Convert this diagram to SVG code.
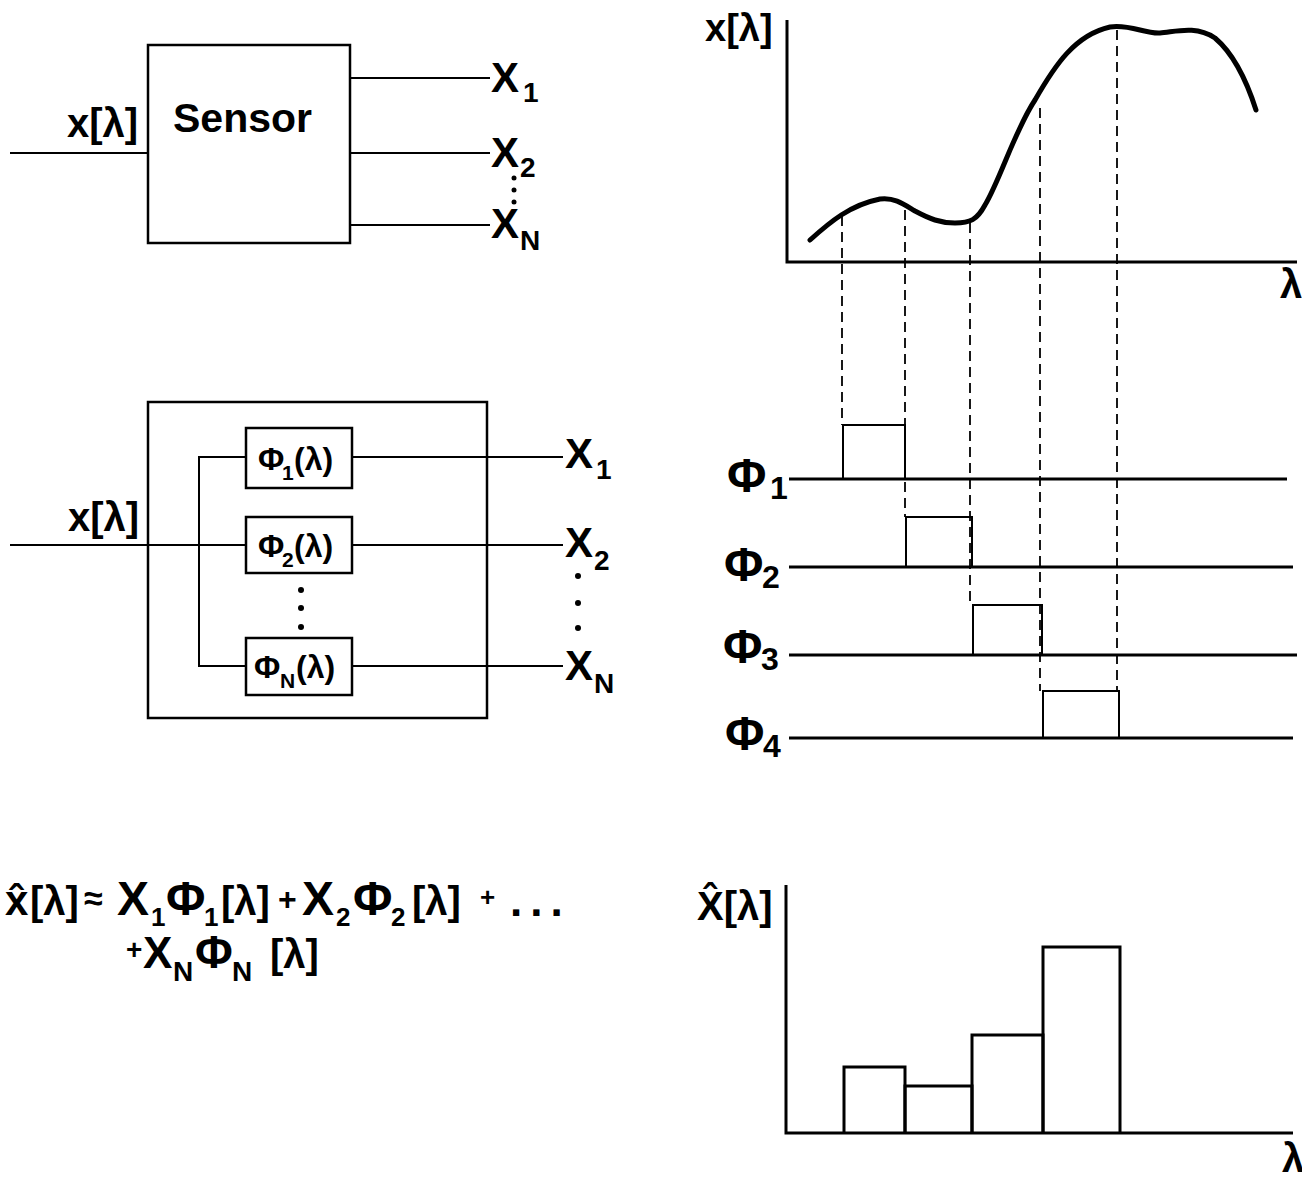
<svg xmlns="http://www.w3.org/2000/svg" width="1302" height="1179" viewBox="0 0 1302 1179">
<style>
.ln{stroke:#000;stroke-width:2;fill:none}
.bx{stroke:#000;stroke-width:2.5;fill:#fff}
.ax{stroke:#000;stroke-width:3;fill:none}
.ds{stroke:#000;stroke-width:1.8;fill:none;stroke-dasharray:10 6}
.cv{stroke:#000;stroke-width:5;fill:none;stroke-linecap:round}
text{font-family:"Liberation Sans",Arial,sans-serif;font-weight:bold;fill:#000}
.t{font-size:42px}
.s{font-size:28px}
.m{font-size:32px}
.ms{font-size:21px}
.p{font-size:48px}
.ps{font-size:32px}
.fb{font-size:48px}
.fs{font-size:26px}
.fl{font-size:40px}
</style>
<rect width="1302" height="1179" fill="#fff"/>

<g id="connectors">
  <line class="ln" x1="10" y1="153" x2="148" y2="153"/>
  <line class="ln" x1="350" y1="78" x2="490" y2="78"/>
  <line class="ln" x1="350" y1="153" x2="490" y2="153"/>
  <line class="ln" x1="350" y1="225" x2="490" y2="225"/>
  <line class="ln" x1="10" y1="545" x2="246" y2="545"/>
  <polyline class="ln" points="246,457 199,457 199,666 246,666"/>
  <line class="ln" x1="352" y1="457" x2="563" y2="457"/>
  <line class="ln" x1="352" y1="545" x2="563" y2="545"/>
  <line class="ln" x1="352" y1="666" x2="563" y2="666"/>
  <line class="ds" x1="842" y1="216" x2="842" y2="425"/>
  <line class="ds" x1="905" y1="210" x2="905" y2="517"/>
  <line class="ds" x1="970" y1="223" x2="970" y2="605"/>
  <line class="ds" x1="1040" y1="108" x2="1040" y2="691"/>
  <line class="ds" x1="1117" y1="30" x2="1117" y2="691"/>
</g>

<g id="sensor">
  <rect class="bx" x="148" y="45" width="202" height="198"/>
  <text x="173" y="132" style="font-size:41px">Sensor</text>
</g>
<g id="sensor-input-label"><text x="67" y="137" style="font-size:40px">x[λ]</text></g>
<g id="sensor-outputs">
  <text class="t" x="491" y="92">X</text><text class="s" x="523" y="102">1</text>
  <text class="t" x="491" y="167">X</text><text class="s" x="520" y="177">2</text>
  <text class="t" x="491" y="238">X</text><text class="s" x="520" y="250">N</text>
  <circle cx="514" cy="178" r="2.5"/><circle cx="514" cy="190" r="2.5"/><circle cx="514" cy="202" r="2.5"/>
</g>

<g id="filterbank">
  <rect class="bx" x="148" y="402" width="339" height="316" style="fill:none"/>
</g>
<g id="phi1-box">
  <rect class="bx" x="246" y="428" width="106" height="60"/>
  <text class="m" x="258" y="470">Φ</text><text class="ms" x="282" y="480">1</text><text class="m" x="294" y="470">(λ)</text>
</g>
<g id="phi2-box">
  <rect class="bx" x="246" y="517" width="106" height="56"/>
  <text class="m" x="258" y="557">Φ</text><text class="ms" x="282" y="567">2</text><text class="m" x="294" y="557">(λ)</text>
</g>
<g id="phiN-box">
  <rect class="bx" x="246" y="638" width="106" height="57"/>
  <text class="m" x="254" y="678">Φ</text><text class="ms" x="280" y="688">N</text><text class="m" x="296" y="678">(λ)</text>
</g>
<g id="filterbank-labels">
  <circle cx="301" cy="590" r="3"/><circle cx="301" cy="608" r="3"/><circle cx="301" cy="627" r="3"/>
  <text x="68" y="531" style="font-size:40px">x[λ]</text>
  <text class="t" x="565" y="468">X</text><text class="s" x="596" y="479">1</text>
  <text class="t" x="565" y="557">X</text><text class="s" x="594" y="570">2</text>
  <text class="t" x="565" y="680">X</text><text class="s" x="594" y="693">N</text>
  <circle cx="578" cy="576" r="3"/><circle cx="578" cy="603" r="3"/><circle cx="578" cy="628" r="3"/>
</g>

<g id="formula">
  <text x="5" y="915" style="font-size:42px">x̂</text>
  <text class="fl" x="30" y="915">[λ]</text>
  <text x="84" y="910" style="font-size:34px">≈</text>
  <text class="fb" x="117" y="915">X</text><text class="fs" x="151" y="926">1</text>
  <text class="fb" x="166" y="915">Φ</text><text class="fs" x="204" y="926">1</text>
  <text class="fl" x="221" y="915">[λ]</text>
  <text x="278" y="910" style="font-size:32px">+</text>
  <text class="fb" x="302" y="915">X</text><text class="fs" x="336" y="926">2</text>
  <text class="fb" x="353" y="915">Φ</text><text class="fs" x="391" y="926">2</text>
  <text class="fl" x="412" y="915">[λ]</text>
  <text x="480" y="906" style="font-size:26px">+</text>
  <text x="510" y="916" style="font-size:44px;letter-spacing:8px">...</text>
  <text x="126" y="959" style="font-size:28px">+</text>
  <text x="143" y="968" style="font-size:44px">X</text><text x="173" y="981" style="font-size:28px">N</text>
  <text x="195" y="968" style="font-size:46px">Φ</text><text x="232" y="981" style="font-size:28px">N</text>
  <text class="fl" x="270" y="968">[λ]</text>
</g>

<g id="graph-signal">
  <polyline class="ax" points="787,20 787,262 1297,262"/>
  <text x="705" y="41" style="font-size:38px">x[λ]</text>
  <text x="1280" y="298" style="font-size:40px">λ</text>
  <path class="cv" d="M810,240 C830,222 850,205 880,199 C895,197 905,205 915,211 C930,219 940,223 955,223 C970,223 977,220 985,205 C1000,180 1015,130 1035,100 C1055,65 1075,35 1110,27 C1130,24 1145,34 1160,33 C1175,32 1195,25 1215,38 C1235,55 1248,85 1256,110"/>
</g>

<g id="graph-basis">
  <line class="ax" x1="789" y1="479" x2="1287" y2="479"/>
  <line class="ax" x1="789" y1="567" x2="1293" y2="567"/>
  <line class="ax" x1="789" y1="655" x2="1297" y2="655"/>
  <line class="ax" x1="789" y1="738" x2="1293" y2="738"/>
  <polyline class="ln" points="843,479 843,425 905,425 905,479"/>
  <polyline class="ln" points="906,567 906,517 972,517 972,567"/>
  <polyline class="ln" points="973,655 973,605 1042,605 1042,655"/>
  <polyline class="ln" points="1043,738 1043,691 1119,691 1119,738"/>
  <text class="p" x="727" y="492">Φ</text><text class="ps" x="770" y="499">1</text>
  <text class="p" x="724" y="581">Φ</text><text class="ps" x="762" y="588">2</text>
  <text class="p" x="723" y="663">Φ</text><text class="ps" x="761" y="670">3</text>
  <text class="p" x="725" y="750">Φ</text><text class="ps" x="763" y="757">4</text>
</g>

<g id="graph-reconstruction">
  <polyline class="ax" points="786,885 786,1133 1293,1133"/>
  <text x="697" y="920" style="font-size:40px">X̂[λ]</text>
  <text x="1282" y="1172" style="font-size:40px">λ</text>
  <polyline class="ax" points="844,1133 844,1067 905,1067 905,1133"/>
  <polyline class="ax" points="905,1133 905,1086 972,1086 972,1133"/>
  <polyline class="ax" points="972,1133 972,1035 1043,1035 1043,1133"/>
  <polyline class="ax" points="1043,1133 1043,947 1120,947 1120,1133"/>
</g>
</svg>
